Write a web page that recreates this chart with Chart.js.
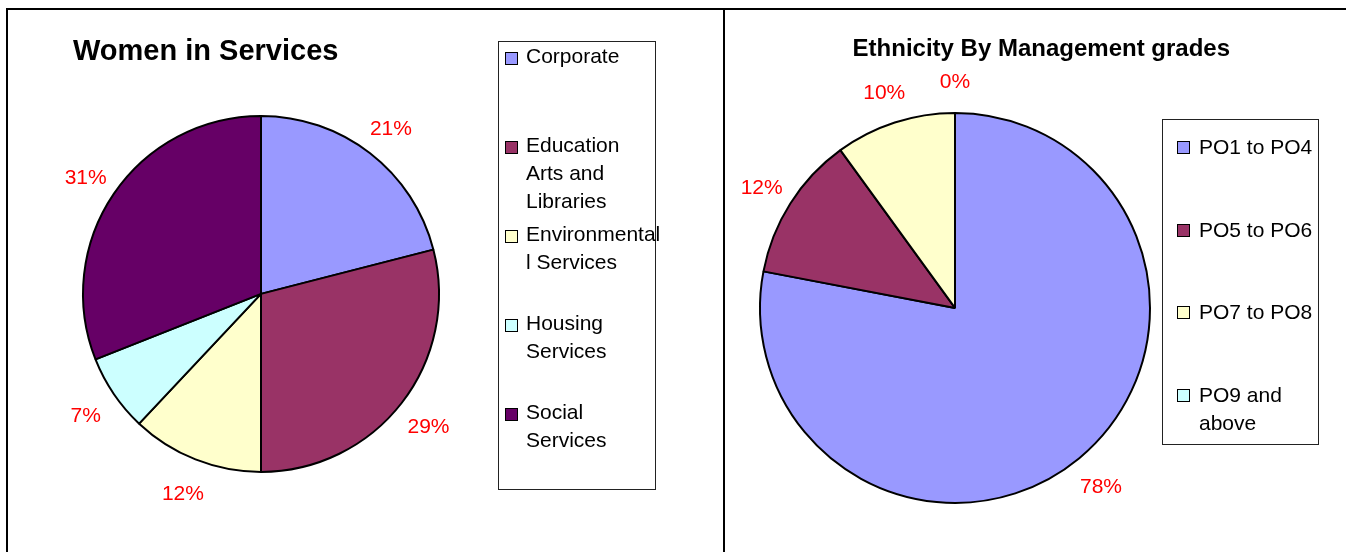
<!DOCTYPE html>
<html>
<head>
<meta charset="utf-8">
<title>Women in Services / Ethnicity By Management grades</title>
<script src="https://cdn.jsdelivr.net/npm/chart.js@4/dist/chart.umd.min.js"></script>
<style>
  html, body { margin: 0; padding: 0; background: #fff; }
  body { width: 1346px; height: 552px; position: relative; overflow: hidden; font-family: "Liberation Sans", Arial, sans-serif; }
  .rule { position: absolute; background: #000; z-index: 5; }
  .chartBox { position: absolute; top: 0; height: 552px; }
  .legend { position: absolute; box-sizing: border-box; border: 1px solid #222; background: transparent;
            font-size: 21px; line-height: 28px; color: #000; white-space: nowrap; z-index: 3; }
  .legend .item { position: relative; }
  .legend .swatch { position: absolute; box-sizing: border-box; border: 1.5px solid #000; }
  #servicesLegend { left: 498px; top: 41px; width: 158px; height: 449px; }
  #servicesLegend .item { height: 89px; padding-left: 27px; }
  #servicesLegend .swatch { left: 6px; top: 10px; width: 13px; height: 13px; }
  #gradesLegend { left: 1162px; top: 119px; width: 157px; height: 326px; padding-top: 13px; }
  #gradesLegend .item { height: 82.5px; padding-left: 36px; }
  #gradesLegend .swatch { left: 14px; top: 8px; width: 13px; height: 13px; }
</style>
</head>
<body>
<div class="rule" style="left:6px; top:8px; right:0; height:2px;"></div>
<div class="rule" style="left:6px; top:8px; width:2px; bottom:0;"></div>
<div class="rule" style="left:723px; top:8px; width:2px; bottom:0;"></div>

<div class="chartBox" style="left:0; width:722px;"><canvas id="servicesChart"></canvas></div>
<div class="chartBox" style="left:680px; width:666px;"><canvas id="gradesChart"></canvas></div>

<div class="legend" id="servicesLegend"></div>
<div class="legend" id="gradesLegend"></div>

<script>
// women in services, % by department
const serviceLabels = ['Corporate', ['Education', 'Arts and', 'Libraries'], ['Environmental', 'l Services'], ['Housing', 'Services'], ['Social', 'Services']];
const serviceShares = [21, 29, 12, 7, 31];

// ethnicity by management grade, %
const gradeLabels = ['PO1 to PO4', 'PO5 to PO6', 'PO7 to PO8', ['PO9 and', 'above']];
const gradeShares = [78, 12, 10, 0];

const palette = ['#9999FF', '#993366', '#FFFFCC', '#CCFFFF', '#660066'];
const fontFamily = '"Liberation Sans", Arial, sans-serif';

// red percentage labels just outside each slice
const outsideLabels = {
	id: 'outsideLabels',
	afterDatasetsDraw(chart, args, opts) {
		const ctx = chart.ctx;
		const values = chart.data.datasets[0].data;
		ctx.save();
		ctx.font = opts.size + 'px ' + fontFamily;
		ctx.fillStyle = opts.color;
		ctx.textAlign = 'center';
		ctx.textBaseline = 'middle';
		chart.getDatasetMeta(0).data.forEach((arc, i) => {
			const p = arc.getProps(['x', 'y', 'startAngle', 'endAngle', 'outerRadius'], true);
			const mid = (p.startAngle + p.endAngle) / 2;
			const r = p.outerRadius + opts.offset;
			ctx.fillText(values[i] + '%', p.x + Math.cos(mid) * r, p.y + Math.sin(mid) * r + opts.shiftY);
		});
		ctx.restore();
	}
};

function buildLegend(chart, el) {
	const ds = chart.data.datasets[0];
	chart.data.labels.forEach((label, i) => {
		const item = document.createElement('div');
		item.className = 'item';
		const swatch = document.createElement('span');
		swatch.className = 'swatch';
		swatch.style.background = ds.backgroundColor[i];
		item.appendChild(swatch);
		(Array.isArray(label) ? label : [label]).forEach(t => {
			const line = document.createElement('div');
			line.textContent = t;
			item.appendChild(line);
		});
		el.appendChild(item);
	});
}

function makePie(canvasId, labels, values, radius, title, titleSize, titleAlign, padding) {
	return new Chart(document.getElementById(canvasId), {
		type: 'pie',
		data: {
			labels: labels,
			datasets: [{
				data: values,
				backgroundColor: palette.slice(0, values.length),
				borderColor: '#000',
				borderWidth: 2,
				radius: radius,
				clip: false
			}]
		},
		options: {
			responsive: true,
			maintainAspectRatio: false,
			animation: false,
			events: [],
			layout: { padding: padding },
			plugins: {
				legend: { display: false },
				tooltip: { enabled: false },
				title: {
					display: true,
					text: title,
					align: titleAlign,
					color: '#000',
					font: { family: fontFamily, size: titleSize, weight: 'bold', lineHeight: 1.2 },
					padding: { top: 35, bottom: 10 }
				},
				outsideLabels: { color: '#FF0000', size: 21, offset: 34, shiftY: 3 }
			}
		},
		plugins: [outsideLabels]
	});
}

const servicesChart = makePie('servicesChart', serviceLabels, serviceShares, 178,
	'Women in Services', 29, 'start', { left: 73, right: 273, top: 0, bottom: 44 });
const gradesChart = makePie('gradesChart', gradeLabels, gradeShares, 195,
	'Ethnicity By Management grades', 24, 'end', { left: 0, right: 116, top: 0, bottom: 10 });

buildLegend(servicesChart, document.getElementById('servicesLegend'));
buildLegend(gradesChart, document.getElementById('gradesLegend'));
</script>
</body>
</html>
